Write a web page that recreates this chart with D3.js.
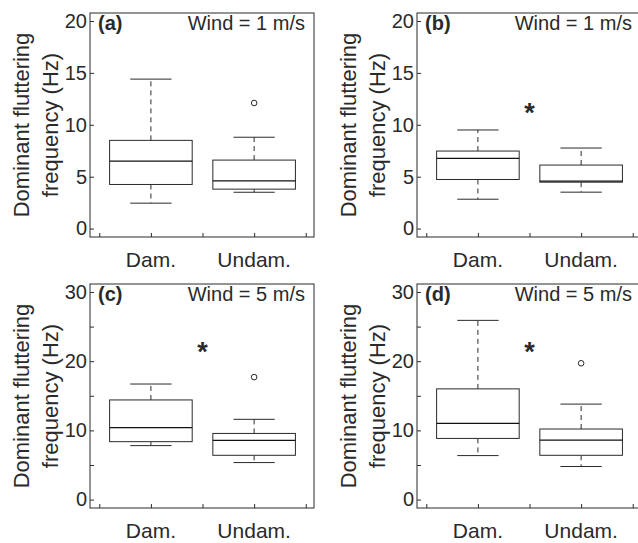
<!DOCTYPE html>
<html>
<head>
<meta charset="utf-8">
<script src="https://cdn.jsdelivr.net/npm/d3@7/dist/d3.min.js"></script>
<style>
  body { margin: 0; background: #fff; }
  svg { display: block; font-family: "Liberation Sans", Arial, sans-serif; }
</style>
</head>
<body>
<div id="chart"></div>
<script>
// data: [low whisker, q1, median, q3, high whisker]
const groups = ["Dam.", "Undam."];
const panelTags = ["(a)", "(b)", "(c)", "(d)"];
const windLabels = ["Wind = 1 m/s", "Wind = 1 m/s", "Wind = 5 m/s", "Wind = 5 m/s"];
const damStats = [
  [2.45, 4.25, 6.5, 8.5, 14.4],
  [2.83, 4.73, 6.76, 7.47, 9.5],
  [7.8, 8.37, 10.4, 14.4, 16.7],
  [6.36, 8.84, 11.0, 16.0, 25.9]
];
const undamStats = [
  [3.5, 3.8, 4.6, 6.6, 8.8],
  [3.51, 4.47, 4.57, 6.12, 7.76],
  [5.35, 6.4, 8.55, 9.56, 11.6],
  [4.78, 6.4, 8.6, 10.2, 13.8]
];
const damOutliers = [[], [], [], []];
const undamOutliers = [[12.1], [], [17.7], [19.7]];
const starY = [null, 11.7, 22.2, 22.2];
const yMax = [20, 20, 30, 30];
const yTicksSmall = [0, 5, 10, 15, 20];
const yTicksLarge = [0, 10, 20, 30];
const yMinorLarge = [5, 15, 25];
const xTicks = [0.5, 1, 1.5, 2, 2.5];

const W = 638, H = 543;
const size = 224;
const origins = [[90, 13], [417, 13], [90, 284], [417, 284]];
const ink = "#2a2a2a";

const svg = d3.select("#chart").append("svg")
  .attr("width", W)
  .attr("height", H);

panelTags.forEach(function(tag, p) {
  const [ox, oy] = origins[p];
  const g = svg.append("g").attr("transform", "translate(" + ox + "," + oy + ")");
  const top = yMax[p];
  const pad = top * 0.0405;
  const y = d3.scaleLinear().domain([-pad, top + pad * 0.95]).range([size, 0]);
  const x = d3.scaleLinear().domain([0.41, 2.58]).range([0, size]);

  // frame
  g.append("rect")
    .attr("width", size).attr("height", size)
    .attr("fill", "none").attr("stroke", ink).attr("stroke-width", 1);

  // y axis, ticks pointing inward
  const labelled = top === 20 ? yTicksSmall : yTicksLarge;
  const yAxis = d3.axisRight(y).tickValues(labelled).tickSize(4).tickFormat(d3.format("d"));
  const ya = g.append("g").call(yAxis);
  ya.select(".domain").remove();
  ya.selectAll("line").attr("stroke", ink);
  ya.selectAll("text")
    .attr("x", -3).attr("text-anchor", "end")
    .attr("font-size", 20).attr("fill", ink);
  if (top === 30) {
    const ym = g.append("g").call(d3.axisRight(y).tickValues(yMinorLarge).tickSize(4).tickFormat(""));
    ym.select(".domain").remove();
    ym.selectAll("line").attr("stroke", ink);
  }

  // x axis, ticks pointing up
  const xa = g.append("g")
    .attr("transform", "translate(0," + size + ")")
    .call(d3.axisTop(x).tickValues(xTicks).tickSize(4).tickFormat(""));
  xa.select(".domain").remove();
  xa.selectAll("line").attr("stroke", ink);
  groups.forEach(function(name, i) {
    g.append("text")
      .attr("x", x(i + 1)).attr("y", size + 29.5)
      .attr("text-anchor", "middle")
      .attr("font-size", 21).attr("fill", ink)
      .text(name);
  });

  // y label
  const yl = g.append("text")
    .attr("transform", "translate(-61," + size / 2 + ") rotate(-90)")
    .attr("text-anchor", "middle")
    .attr("font-size", 22).attr("fill", ink);
  yl.append("tspan").attr("x", 0).attr("y", 0).text("Dominant fluttering");
  yl.append("tspan").attr("x", 0).attr("y", 29).text("frequency (Hz)");

  // panel tag and wind label
  g.append("text")
    .attr("x", 8).attr("y", 16.5)
    .attr("font-size", 20).attr("font-weight", "bold").attr("fill", ink)
    .text(tag);
  g.append("text")
    .attr("x", size - 9).attr("y", 16.5)
    .attr("text-anchor", "end")
    .attr("font-size", 20).attr("fill", ink)
    .text(windLabels[p]);

  // boxes
  const stats = [damStats[p], undamStats[p]];
  const outs = [damOutliers[p], undamOutliers[p]];
  stats.forEach(function(s, i) {
    const c = i + 1;
    const bg = g.append("g");
    // whiskers
    bg.append("line")
      .attr("x1", x(c)).attr("x2", x(c))
      .attr("y1", y(s[3])).attr("y2", y(s[4]))
      .attr("stroke", ink).attr("stroke-dasharray", "5,4");
    bg.append("line")
      .attr("x1", x(c)).attr("x2", x(c))
      .attr("y1", y(s[1])).attr("y2", y(s[0]))
      .attr("stroke", ink).attr("stroke-dasharray", "5,4");
    [s[0], s[4]].forEach(function(v) {
      bg.append("line")
        .attr("x1", x(c - 0.2)).attr("x2", x(c + 0.2))
        .attr("y1", y(v)).attr("y2", y(v))
        .attr("stroke", ink);
    });
    bg.append("rect")
      .attr("x", x(c - 0.4)).attr("width", x(c + 0.4) - x(c - 0.4))
      .attr("y", y(s[3])).attr("height", y(s[1]) - y(s[3]))
      .attr("fill", "#fff").attr("stroke", ink);
    bg.append("line")
      .attr("x1", x(c - 0.4)).attr("x2", x(c + 0.4))
      .attr("y1", y(s[2])).attr("y2", y(s[2]))
      .attr("stroke", "#111").attr("stroke-width", 1.2);
    bg.selectAll("circle").data(outs[i]).enter().append("circle")
      .attr("cx", x(c)).attr("cy", function(d) { return y(d); })
      .attr("r", 2.8)
      .attr("fill", "none").attr("stroke", ink);
  });

  // significance mark
  if (starY[p] !== null) {
    g.append("text")
      .attr("x", x(1.5)).attr("y", y(starY[p]) + 15)
      .attr("text-anchor", "middle")
      .attr("font-size", 27).attr("font-weight", "bold").attr("fill", ink)
      .text("*");
  }
});
</script>
</body>
</html>
